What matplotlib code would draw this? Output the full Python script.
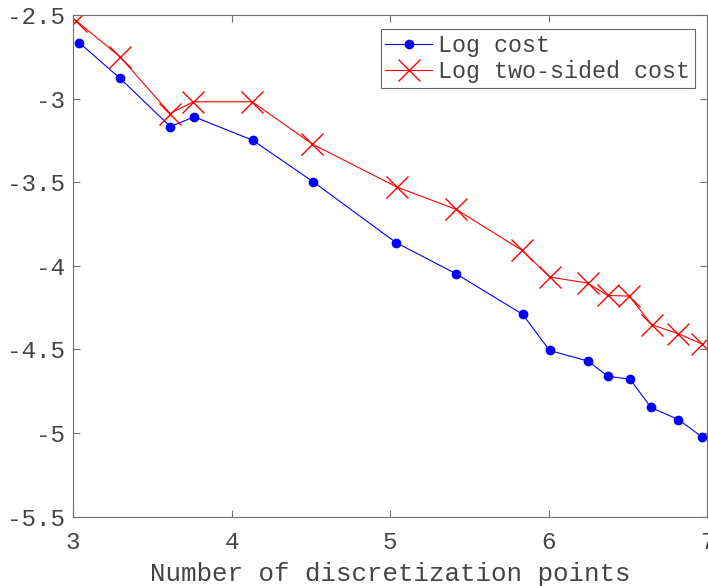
import matplotlib
matplotlib.use("Agg")
import matplotlib.pyplot as plt

x_cost = [3.04, 3.297, 3.614, 3.765, 4.134, 4.516, 5.038, 5.416, 5.837, 6.007, 6.251, 6.373, 6.514, 6.647, 6.819, 6.966]
log_cost = [-2.666, -2.879, -3.167, -3.109, -3.249, -3.498, -3.861, -4.047, -4.290, -4.506, -4.570, -4.660, -4.678, -4.847, -4.919, -5.021]
x_two = [3.02, 3.297, 3.612, 3.759, 4.131, 4.510, 5.042, 5.416, 5.833, 6.009, 6.247, 6.373, 6.510, 6.651, 6.819, 6.966]
log_two = [-2.534, -2.750, -3.089, -3.019, -3.019, -3.272, -3.528, -3.662, -3.907, -4.067, -4.103, -4.177, -4.181, -4.352, -4.406, -4.466]
xticks = [3, 4, 5, 6, 7]
yticks = [-5.5, -5, -4.5, -4, -3.5, -3, -2.5]

plt.rcParams['font.family'] = ['Liberation Mono', 'DejaVu Sans Mono']
txt = '#444444'
spc = '#707070'

fig = plt.figure(figsize=(7.08, 5.86), dpi=100)
axw, axh = 634, 501.7
ax = fig.add_axes([73/708, 69.3/586, axw/708, axh/586])
ax.plot(x_cost, log_cost, color='blue', lw=0.8, marker='o', ms=6, label='Log cost')
ax.plot(x_two, log_two, color='red', lw=0.8, marker='x', ms=16, mew=1.0, label='Log two-sided cost')
ax.set_xlim(3, 7)
ax.set_ylim(-5.5, -2.5)
ax.set_xticks(xticks)
ax.set_yticks(yticks)
ax.set_xticklabels([str(t) for t in xticks])
ax.set_yticklabels(['%g' % t for t in yticks])
ax.tick_params(direction='in', length=5, width=0.8, top=True, right=True,
               colors=spc, labelcolor=txt, labelsize=17.5)
ax.tick_params(axis='x', pad=10)
ax.tick_params(axis='y', pad=6)
for s in ax.spines.values():
    s.set_color(spc)
    s.set_linewidth(0.8)
ax.set_xlabel('Number of discretization points', fontsize=18.6, color=txt, labelpad=6)
leg = ax.legend(loc='upper right', fontsize=16.8, frameon=True, fancybox=False,
                borderpad=0.2, handlelength=2.0, handletextpad=0.25, labelspacing=0.15,
                bbox_to_anchor=((694.5 - 73) / axw, 1 - (29.3 - 15) / axh), bbox_transform=ax.transAxes,
                borderaxespad=0)
leg.get_frame().set_edgecolor('#404040')
leg.get_frame().set_linewidth(0.8)
for t in leg.get_texts():
    t.set_color(txt)
fig.savefig('out.png', dpi=100)
